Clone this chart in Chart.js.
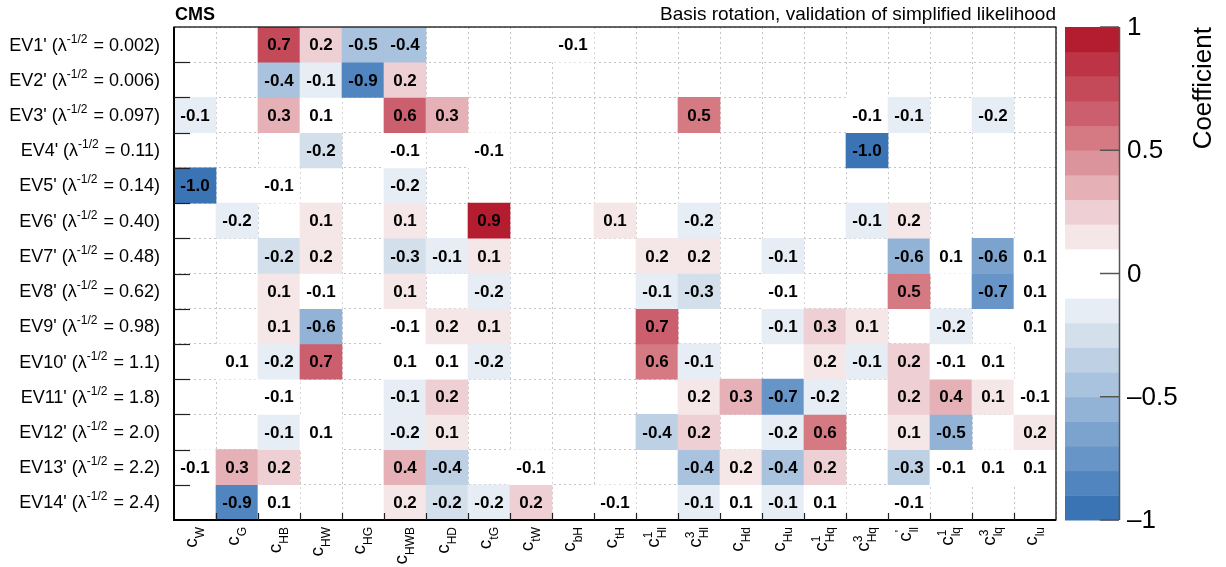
<!DOCTYPE html>
<html><head><meta charset="utf-8">
<script src="https://cdn.jsdelivr.net/npm/chart.js@4/dist/chart.umd.min.js"></script>
<style>html,body{margin:0;padding:0;background:#fff}#wrap{width:1226px;height:567px;position:relative}</style>
</head><body><div id="wrap"><canvas id="c" width="1226" height="567"></canvas></div>
<script>
// ---- data ----
const columns = ['cW','cG','cHB','cHW','cHG','cHWB','cHD','ctG','ctW','cbH','ctH','c1Hl','c3Hl','cHd','cHu','c1Hq','c3Hq',"c'll",'c1lq','c3lq','clu'];
const columnSub = ['W','G','HB','HW','HG','HWB','HD','tG','tW','bH','tH','Hl','Hl','Hd','Hu','Hq','Hq','ll','lq','lq','lu'];
const columnSup = ['','','','','','','','','','','','1','3','','','1','3',"'",'1','3',''];
const rowNames = ["EV1'","EV2'","EV3'","EV4'","EV5'","EV6'","EV7'","EV8'","EV9'","EV10'","EV11'","EV12'","EV13'","EV14'"];
const rowLambda = ['0.002','0.006','0.097','0.11','0.14','0.40','0.48','0.62','0.98','1.1','1.8','2.0','2.2','2.4'];
//            cW    cG    cHB   cHW   cHG   cHWB  cHD   ctG   ctW   cbH   ctH   c1Hl  c3Hl  cHd   cHu   c1Hq  c3Hq  c'll  c1lq  c3lq  clu
const ev1  = [0,    0,    0.7,  0.2,  -0.46,-0.4, 0,    0,    0,    -0.08,0,    0,    0,    0,    0,    0,    0,    0,    0,    0,    0];
const ev2  = [0,    0,    -0.4, -0.1, -0.88,0.2,  0,    0,    0,    0,    0,    0,    0,    0,    0,    0,    0,    0,    0,    0,    0];
const ev3  = [-0.1, 0,    0.3,  0.08, 0,    0.6,  0.3,  0,    0,    0,    0,    0,    0.5,  0,    0,    0,    -0.08,-0.1, 0,    -0.18,0];
const ev4  = [0,    0,    0,    -0.2, 0,    -0.08,0,    -0.08,0,    0,    0,    0,    0,    0,    0,    0,    -1.0, 0,    0,    0,    0];
const ev5  = [-1.0, 0,    -0.08,0,    0,    -0.18,0,    0,    0,    0,    0,    0,    0,    0,    0,    0,    0,    0,    0,    0,    0];
const ev6  = [0,    -0.18,0,    0.1,  0,    0.1,  0,    0.9,  0,    0,    0.1,  0,    -0.18,0,    0,    0,    -0.1, 0.18, 0,    0,    0];
const ev7  = [0,    0,    -0.2, 0.18, 0,    -0.28,-0.1, 0.1,  0,    0,    0,    0.18, 0.18, 0,    -0.1, 0,    0,    -0.56,0.08, -0.6, 0.08];
const ev8  = [0,    0,    0.1,  -0.08,0,    0.1,  0,    -0.18,0,    0,    0,    -0.1, -0.28,0,    -0.08,0,    0,    0.5,  0,    -0.7, 0.08];
const ev9  = [0,    0,    0.1,  -0.56,0,    -0.08,0.18, 0.1,  0,    0,    0,    0.66, 0,    0,    -0.1, 0.28, 0.1,  0,    -0.18,0,    0.08];
const ev10 = [0,    0.08, -0.18,0.66, 0,    0.08, 0.08, -0.18,0,    0,    0,    0.56, -0.1, 0,    0,    0.18, -0.1, 0.2,  -0.08,0.08, 0];
const ev11 = [0,    0,    -0.08,0,    0,    -0.1, 0.2,  0,    0,    0,    0,    0,    0.18, 0.3,  -0.7, -0.18,0,    0.2,  0.36, 0.1,  -0.08];
const ev12 = [0,    0,    -0.1, 0.08, 0,    -0.18,0.1,  0,    0,    0,    0,    -0.36,0.2,  0,    -0.18,0.58, 0,    0.1,  -0.5, 0,    0.18];
const ev13 = [-0.08,0.3,  0.2,  0,    0,    0.36, -0.36,0,    -0.08,0,    0,    0,    -0.4, 0.18, -0.4, 0.2,  0,    -0.3, -0.08,0.08, 0.08];
const ev14 = [0,    -0.86,0.08, 0,    0,    0.18, -0.2, -0.18,0.2,  0,    -0.08,0,    -0.1, 0.08, -0.1, 0.08, 0,    -0.08,0,    0,    0];
const rows = [ev1,ev2,ev3,ev4,ev5,ev6,ev7,ev8,ev9,ev10,ev11,ev12,ev13,ev14];
const colorbarTicks = [1, 0.5, 0, -0.5, -1];

// ---- palette (20 contour levels, |v|<0.1 white) ----
const posColors = ['#f5e6e8','#eecfd3','#e5b1b7','#dc949c','#d57983','#cc5f6d','#c44a5a','#bc3445','#b41c30'];
const negColors = ['#e6edf5','#d3e0ec','#bdd0e4','#a9c2de','#92b2d6','#7ca3ce','#6795c7','#5085bf','#3a74b5'];
function colorFor(v){
  const k = Math.floor(Math.abs(v)*10 + 1e-6);
  if (k < 1) return '#ffffff';
  const i = Math.min(k, 9) - 1;
  return v > 0 ? posColors[i] : negColors[i];
}

const FONT = '"Liberation Sans", Arial, Helvetica, sans-serif';
const PLOT_LEFT = 174, PLOT_TOP = 27, XAXIS_H = 47, RIGHT_W = 170;

const datasets = rows.map((vals, r) => ({
  label: rowNames[r],
  data: vals.map(v => v === 0 ? null : [r, r + 1]),
  backgroundColor: vals.map(v => colorFor(v)),
  borderWidth: 0,
  grouped: false,
  barPercentage: 1,
  categoryPercentage: 1,
  yAxisID: 'y'
}));

function drawScript(ctx, x, y, main, sub, sup, fMain, fSmall, subDy, supDy){
  ctx.font = fMain; const wm = ctx.measureText(main).width;
  ctx.fillText(main, x, y);
  ctx.font = fSmall;
  let ws = 0;
  if (sub) { ctx.fillText(sub, x + wm, y + subDy); ws = Math.max(ws, ctx.measureText(sub).width); }
  if (sup) { ctx.fillText(sup, x + wm, y + supDy); ws = Math.max(ws, ctx.measureText(sup).width); }
  return wm + ws;
}
function scriptWidth(ctx, main, sub, sup, fMain, fSmall){
  ctx.font = fMain; const wm = ctx.measureText(main).width;
  ctx.font = fSmall;
  const ws = Math.max(sub ? ctx.measureText(sub).width : 0, sup ? ctx.measureText(sup).width : 0);
  return wm + ws;
}
const fmtCb = v => v < 0 ? '\u2013' + Math.abs(v) : String(v);

const decor = {
  id: 'decor',
  beforeDatasetsDraw(chart){
    const ctx = chart.ctx, cb = chart.scales.cb;
    ctx.save();
    const x0 = 1065, x1 = 1119;
    for (let k = -10; k < 10; k++) {
      const lo = k / 10, hi = (k + 1) / 10;
      ctx.fillStyle = colorFor((lo + hi) / 2);
      const yTop = cb.getPixelForValue(hi), yBot = cb.getPixelForValue(lo);
      ctx.fillRect(x0, yTop, x1 - x0, yBot - yTop + 0.5);
    }
    ctx.strokeStyle = '#555'; ctx.lineWidth = 1.5;
    ctx.beginPath(); ctx.moveTo(x1 + 0.5, cb.top); ctx.lineTo(x1 + 0.5, cb.bottom); ctx.stroke();
    ctx.fillStyle = '#000';
    ctx.font = '26px ' + FONT; ctx.textAlign = 'left'; ctx.textBaseline = 'middle';
    colorbarTicks.forEach(t => {
      const y = cb.getPixelForValue(t);
      ctx.beginPath(); ctx.moveTo(x1, y); ctx.lineTo(x1 - 19, y); ctx.stroke();
      ctx.fillText(fmtCb(t), 1127, y + 1);
    });
    ctx.restore();
  },
  afterDraw(chart){
    const ctx = chart.ctx, xs = chart.scales.x, ys = chart.scales.y, a = chart.chartArea;
    ctx.save();
    // cell texts
    ctx.fillStyle = '#000';
    ctx.font = 'bold 17px ' + FONT;
    ctx.textAlign = 'center'; ctx.textBaseline = 'middle';
    rows.forEach((vals, r) => {
      vals.forEach((v, c) => {
        if (v === 0) return;
        ctx.fillText(v.toFixed(1), xs.getPixelForValue(c), ys.getPixelForValue(r + 0.5) + 1);
      });
    });
    // frame
    ctx.strokeStyle = '#000';
    ctx.lineWidth = 1.2;
    ctx.strokeRect(a.left, a.top, a.right - a.left, a.bottom - a.top);
    ctx.lineWidth = 2;
    ctx.beginPath(); ctx.moveTo(a.left, a.top); ctx.lineTo(a.left, a.bottom); ctx.lineTo(a.right, a.bottom); ctx.stroke();
    // ticks
    ctx.lineWidth = 1.2; ctx.strokeStyle = '#222';
    for (let r = 1; r < rows.length; r++) {
      const y = Math.round(ys.getPixelForValue(r)) + 0.5;
      ctx.beginPath(); ctx.moveTo(a.left, y); ctx.lineTo(a.left + 16, y); ctx.stroke();
    }
    for (let c = 0; c < columns.length - 1; c++) {
      const x = Math.round((xs.getPixelForValue(c) + xs.getPixelForValue(c + 1)) / 2) + 0.5;
      ctx.beginPath(); ctx.moveTo(x, a.bottom); ctx.lineTo(x, a.bottom - 7); ctx.stroke();
    }
    // y labels
    ctx.textAlign = 'left'; ctx.textBaseline = 'alphabetic'; ctx.fillStyle = '#000';
    const fM = '18px ' + FONT, fS = '12px ' + FONT;
    rows.forEach((_, r) => {
      const y = ys.getPixelForValue(r + 0.5) + 6;
      const p1 = rowNames[r] + ' (\u03bb', p2 = '-1/2', p3 = ' = ' + rowLambda[r] + ')';
      ctx.font = fM; const w1 = ctx.measureText(p1).width, w3 = ctx.measureText(p3).width;
      ctx.font = fS; const w2 = ctx.measureText(p2).width;
      let x = 160 - (w1 + w2 + w3 + 1);
      ctx.font = fM; ctx.fillText(p1, x, y); x += w1;
      ctx.font = fS; ctx.fillText(p2, x, y - 8); x += w2 + 1;
      ctx.font = fM; ctx.fillText(p3, x, y);
    });
    // x labels (rotated)
    const xM = '19px ' + FONT, xS = '12px ' + FONT;
    columns.forEach((_, c) => {
      const cx = xs.getPixelForValue(c);
      const w = scriptWidth(ctx, 'c', columnSub[c], columnSup[c], xM, xS);
      ctx.save();
      ctx.translate(cx, a.bottom + 7);
      ctx.rotate(-Math.PI / 2);
      drawScript(ctx, -w, 2, 'c', columnSub[c], columnSup[c], xM, xS, 7, -7);
      ctx.restore();
    });
    // titles
    ctx.font = 'bold 18px ' + FONT; ctx.textAlign = 'left';
    ctx.fillText('CMS', a.left + 1, 20);
    ctx.font = '19px ' + FONT; ctx.textAlign = 'right';
    ctx.fillText('Basis rotation, validation of simplified likelihood', a.right, 20);
    // colorbar title
    ctx.save();
    ctx.translate(1211, a.top);
    ctx.rotate(-Math.PI / 2);
    ctx.font = '26px ' + FONT; ctx.textAlign = 'right';
    ctx.fillText('Coefficient', 0, 0);
    ctx.restore();
    ctx.restore();
  }
};

new Chart(document.getElementById('c'), {
  type: 'bar',
  data: { labels: columns, datasets },
  options: {
    responsive: false, animation: false, devicePixelRatio: 1,
    layout: { padding: { left: 0, right: 0, top: PLOT_TOP, bottom: 0 } },
    plugins: { legend: { display: false }, tooltip: { enabled: false } },
    scales: {
      x: {
        type: 'category', offset: true, z: 1,
        grid: { display: true, offset: true, color: '#c4c4c4', lineWidth: 1, drawTicks: false },
        border: { display: false, dash: [2, 3] },
        ticks: { display: false },
        afterFit: s => { s.height = XAXIS_H; }
      },
      y: {
        type: 'linear', min: 0, max: rows.length, reverse: true, z: 1,
        grid: { display: true, color: '#c4c4c4', lineWidth: 1, drawTicks: false },
        border: { display: false, dash: [2, 3] },
        ticks: { display: false, stepSize: 1 },
        afterFit: s => { s.width = PLOT_LEFT; }
      },
      cb: {
        type: 'linear', position: 'right', min: -1, max: 1,
        grid: { display: false, drawTicks: false },
        border: { display: false },
        ticks: { display: false, stepSize: 0.5 },
        afterFit: s => { s.width = RIGHT_W; }
      }
    }
  },
  plugins: [decor]
});
</script>
</body></html>
